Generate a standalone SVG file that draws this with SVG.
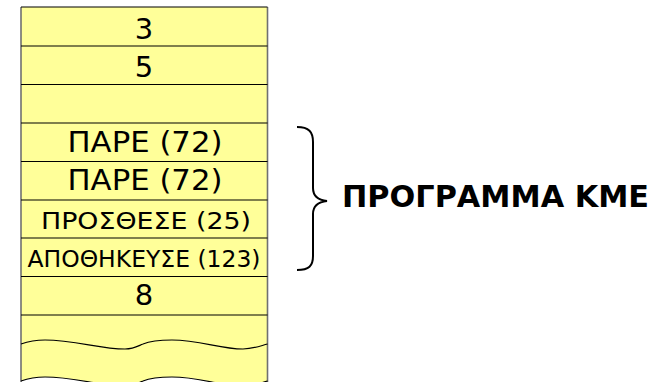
<svg xmlns="http://www.w3.org/2000/svg" width="661" height="382" viewBox="0 0 661 382">
<style>
.row{stroke:#000;stroke-width:1.2;fill:none}
.side{stroke:#707070;stroke-width:1.6;fill:none}
.wave{stroke:#000;stroke-width:1.2;fill:none}
.t{font-family:"DejaVu Sans",Verdana,sans-serif;fill:#000;text-anchor:middle}
.big{font-size:29px}
.small{font-size:23.5px}
.lab{font-family:"DejaVu Sans",Verdana,sans-serif;font-weight:bold;font-size:30px;fill:#000}
</style>
<rect width="661" height="382" fill="#fff"/>
<g id="stack">
<path d="M21,7 H267.5 V381 C260,383 253,386 243,386 C220,386 200,377 172,377 C160,377 150,378 143,381 C138,383 134,386 125,386 C100,386 75,377 45,377 C36,377 28,378.5 21,381 Z" fill="#FFFF99" stroke="none"/>
<line class="side" x1="21" y1="7" x2="21" y2="382"/>
<line class="side" x1="267.5" y1="7" x2="267.5" y2="382"/>
<line class="row" x1="21" y1="7" x2="267.5" y2="7"/>
</g>
<g id="connectors">
<path class="wave" d="M21,344 C28,341.5 36,340 45,340 C75,340 100,349 125,349 C134,349 138,346 143,344 C150,341 160,340 172,340 C200,340 220,349 243,349 C253,349 260,346 267.5,344"/>
<path class="wave" d="M21,381 C28,378.5 36,377 45,377 C75,377 100,386 125,386 C134,386 138,383 143,381 C150,378 160,377 172,377 C200,377 220,386 243,386 C253,386 260,383 267.5,381"/>
<path d="M297,127 C309,127 313,132 313,142 V188 C313,196 318,200 327,201 C318,202 313,206 313,214 V256 C313,266 309,270 297,270" fill="none" stroke="#000" stroke-width="2"/>
</g>
<g id="row1"><line class="row" x1="21" y1="46" x2="267.5" y2="46"/><text class="t big" x="144" y="39">3</text></g>
<g id="row2"><line class="row" x1="21" y1="84.5" x2="267.5" y2="84.5"/><text class="t big" x="144" y="77">5</text></g>
<g id="row3"><line class="row" x1="21" y1="123" x2="267.5" y2="123"/></g>
<g id="row4"><line class="row" x1="21" y1="161.5" x2="267.5" y2="161.5"/><text class="t big" x="145" y="152" textLength="155" lengthAdjust="spacingAndGlyphs">ΠΑΡΕ (72)</text></g>
<g id="row5"><line class="row" x1="21" y1="200" x2="267.5" y2="200"/><text class="t big" x="145" y="190" textLength="155" lengthAdjust="spacingAndGlyphs">ΠΑΡΕ (72)</text></g>
<g id="row6"><line class="row" x1="21" y1="238" x2="267.5" y2="238"/><text class="t small" x="146" y="229" textLength="210" lengthAdjust="spacingAndGlyphs">ΠΡΟΣΘΕΣΕ (25)</text></g>
<g id="row7"><line class="row" x1="21" y1="276.5" x2="267.5" y2="276.5"/><text class="t small" x="144" y="267" textLength="233" lengthAdjust="spacingAndGlyphs">ΑΠΟΘΗΚΕΥΣΕ (123)</text></g>
<g id="row8"><line class="row" x1="21" y1="315" x2="267.5" y2="315"/><text class="t big" x="144" y="305">8</text></g>
<g id="label"><text class="lab" x="342" y="207" textLength="307" lengthAdjust="spacingAndGlyphs">ΠΡΟΓΡΑΜΜΑ ΚΜΕ</text></g>
</svg>
